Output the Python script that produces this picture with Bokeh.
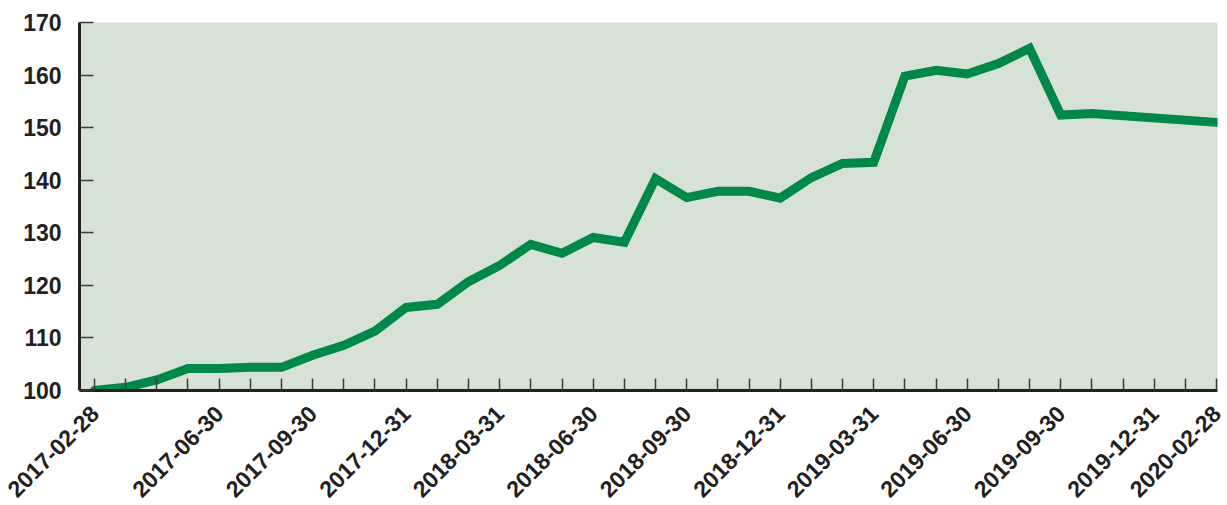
import math
from bokeh.plotting import figure
from bokeh.models import FixedTicker, Range1d
from bokeh.embed import file_html
from bokeh.resources import INLINE

months = [
    "2017-02-28", "2017-03-31", "2017-04-30", "2017-05-31", "2017-06-30", "2017-07-31",
    "2017-08-31", "2017-09-30", "2017-10-31", "2017-11-30", "2017-12-31", "2018-01-31",
    "2018-02-28", "2018-03-31", "2018-04-30", "2018-05-31", "2018-06-30", "2018-07-31",
    "2018-08-31", "2018-09-30", "2018-10-31", "2018-11-30", "2018-12-31", "2019-01-31",
    "2019-02-28", "2019-03-31", "2019-04-30", "2019-05-31", "2019-06-30", "2019-07-31",
    "2019-08-31", "2019-09-30", "2019-10-31", "2019-11-30", "2019-12-31", "2020-01-31",
    "2020-02-28",
]
labeled = ["2017-02-28", "2017-06-30", "2017-09-30", "2017-12-31", "2018-03-31",
           "2018-06-30", "2018-09-30", "2018-12-31", "2019-03-31", "2019-06-30",
           "2019-09-30", "2019-12-31", "2020-02-28"]

data_dates = [
    "2017-02-28", "2017-03-31", "2017-04-30", "2017-05-31", "2017-06-30", "2017-07-31",
    "2017-08-31", "2017-09-30", "2017-10-31", "2017-11-30", "2017-12-31", "2018-01-31",
    "2018-02-28", "2018-03-31", "2018-04-30", "2018-05-31", "2018-06-30", "2018-07-31",
    "2018-08-31", "2018-09-30", "2018-10-31", "2018-11-30", "2018-12-31", "2019-01-31",
    "2019-02-28", "2019-03-31", "2019-04-30", "2019-05-31", "2019-06-30", "2019-07-31",
    "2019-08-31", "2019-09-30", "2019-10-31", "2020-02-28",
]
values = [
    100.0, 100.6, 102.0, 104.2, 104.2, 104.4,
    104.4, 106.7, 108.6, 111.3, 115.8, 116.4,
    120.7, 123.8, 127.8, 126.1, 129.1, 128.2,
    140.3, 136.7, 137.9, 137.9, 136.6, 140.5,
    143.2, 143.4, 159.8, 160.9, 160.2, 162.2,
    165.1, 152.4, 152.7, 151.0,
]

y_ticks = [100, 110, 120, 130, 140, 150, 160, 170]

xs = [months.index(d) for d in data_dates]

p = figure(frame_width=1138, frame_height=368, output_backend="svg", toolbar_location=None,
           x_range=Range1d(-0.48, 36.03), y_range=Range1d(100, 170))
p.min_border_left = 79
p.min_border_right = 10
p.min_border_top = 22
p.min_border_bottom = 10
p.outline_line_color = None
p.background_fill_color = "#d7e2d6"
p.border_fill_color = "white"
p.xgrid.grid_line_color = None
p.ygrid.grid_line_color = None

p.line(xs, values, line_color="#00874a", line_width=9, line_cap="round", line_join="miter")

axis_color = "#231f20"
font = "Liberation Sans"

xa = p.xaxis[0]
xa.ticker = FixedTicker(ticks=list(range(len(months))))
xa.major_label_overrides = {i: (m if m in labeled else "") for i, m in enumerate(months)}
xa.major_label_orientation = math.pi / 4
xa.major_tick_in = 12
xa.major_tick_out = 0
xa.minor_tick_line_color = None
xa.axis_line_width = 3
xa.axis_line_color = axis_color
xa.major_tick_line_color = "#3a3a3a"
xa.major_tick_line_width = 1.5
xa.major_label_text_font = font
xa.major_label_text_font_style = "bold"
xa.major_label_text_font_size = "23px"
xa.major_label_text_color = axis_color
xa.major_label_standoff = 19

ya = p.yaxis[0]
ya.ticker = FixedTicker(ticks=y_ticks)
ya.major_tick_in = 14
ya.major_tick_out = 0
ya.minor_tick_line_color = None
ya.axis_line_width = 3
ya.axis_line_color = axis_color
ya.major_tick_line_color = "#3a3a3a"
ya.major_tick_line_width = 1.5
ya.major_label_text_font = font
ya.major_label_text_font_style = "bold"
ya.major_label_text_font_size = "23px"
ya.major_label_text_color = axis_color
ya.major_label_standoff = 18

open("out.html", "w").write(file_html(p, INLINE))
